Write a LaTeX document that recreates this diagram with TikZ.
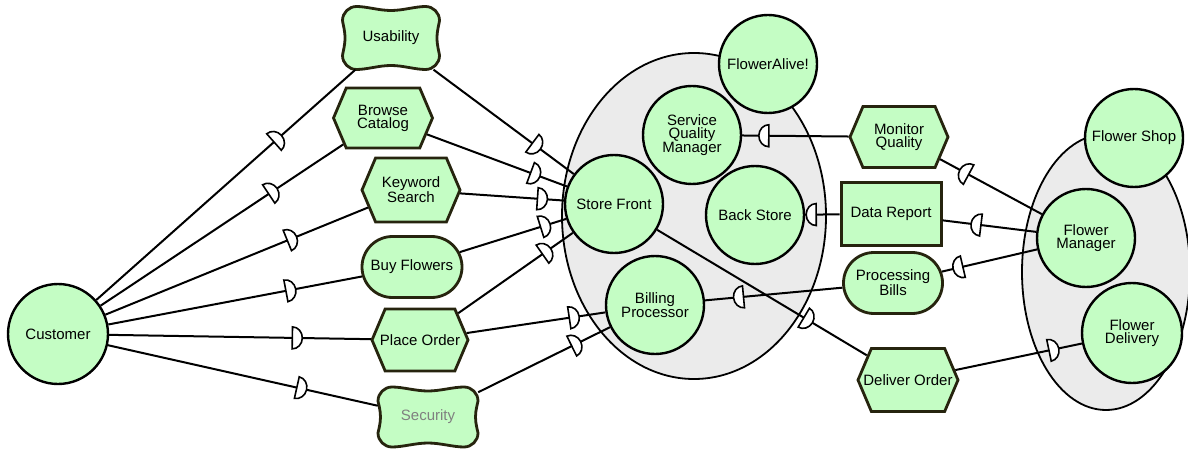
\documentclass[tikz,border=0pt]{standalone}
\usepackage{fontspec}
\setmainfont{Liberation Sans}
\usetikzlibrary{shapes.misc,shapes.symbols,shapes.geometric,decorations.markings}

\definecolor{actorfill}{RGB}{196,253,196}
\definecolor{bndfill}{RGB}{235,235,235}
\definecolor{dumline}{RGB}{38,36,14}

\tikzset{
  lbl/.style={font=\fontsize{15}{13}\selectfont, align=center, text=black, inner sep=0pt},
  actor/.style={lbl, circle, draw=black, line width=2.4pt, fill=actorfill, minimum size=98pt},
  boundary/.style={ellipse, draw=black, line width=1.8pt, fill=bndfill, inner sep=0pt},
  goalnode/.style={lbl, rounded rectangle, draw=dumline, line width=2.8pt, fill=actorfill},
  tasknode/.style={signal, signal to=west and east, signal pointer angle=134,
    draw=dumline, line width=2.8pt, fill=actorfill, inner sep=0pt},
  resnode/.style={lbl, rectangle, draw=dumline, line width=3pt, fill=actorfill},
  softnode/.style={lbl, rectangle},
  softshape/.style={draw=dumline, line width=2.8pt, fill=actorfill},
  link/.style={draw=black, line width=2pt},
  dmark/.style={draw=black, line width=1.6pt, fill=white},
  dep/.style={postaction={decorate, decoration={markings,
    mark=at position #1 with {\draw[dmark] (0,-11pt) -- (0,11pt)
      arc[start angle=90, end angle=-90, x radius=10pt, y radius=11pt] -- cycle;}}}},
}

% softgoal: pillow-shaped outline (round corners, gently hollow sides)
% with a named text node on top
\newcommand\softgoal[6]{%
  \draw[softshape, shift={(#2,#3)}]
    (-#4+14,-#5) .. controls (-#4/2,-#5) and (-#4/4,-#5+4) .. (0,-#5+4)
    .. controls (#4/4,-#5+4) and (#4/2,-#5) .. (#4-14,-#5)
    .. controls (#4-6.3,-#5) and (#4,-#5+6.3) .. (#4,-#5+14)
    .. controls (#4,-#5/2) and (#4-2.5,-#5/4) .. (#4-2.5,0)
    .. controls (#4-2.5,#5/4) and (#4,#5/2) .. (#4,#5-14)
    .. controls (#4,#5-6.3) and (#4-6.3,#5) .. (#4-14,#5)
    .. controls (#4/2,#5) and (#4/4,#5-4) .. (0,#5-4)
    .. controls (-#4/4,#5-4) and (-#4/2,#5) .. (-#4+14,#5)
    .. controls (-#4+6.3,#5) and (-#4,#5-6.3) .. (-#4,#5-14)
    .. controls (-#4,#5/2) and (-#4+2.5,#5/4) .. (-#4+2.5,0)
    .. controls (-#4+2.5,-#5/4) and (-#4,-#5/2) .. (-#4,-#5+14)
    .. controls (-#4,-#5+6.3) and (-#4+6.3,-#5) .. (-#4+14,-#5) -- cycle;
  \node[softnode, minimum width=2*#4, minimum height=2*#5] (#1) at (#2,#3) {#6};}

% task: hexagon with its label set over it
\newcommand\taskat[6]{%
  \node[tasknode, minimum width=#4, minimum height=#5] (#1) at (#2,#3) {};
  \node[lbl] (#1-text) at (#1) {#6};}

\begin{document}
\begin{tikzpicture}[x=1pt,y=-1pt]
\useasboundingbox (0,0) rectangle (1188,449);
\fill[white] (0,0) rectangle (1188,449);
\clip (0,0) rectangle (1188,449);

% actor boundaries
\node[boundary, minimum width=264, minimum height=326] (alivebnd) at (694,216) {};
\node[boundary, minimum width=168, minimum height=276] (shopbnd) at (1106,272) {};

% actors and agents
\node[actor, minimum size=100pt] (customer) at (58,334) {Customer};
\node[actor] (flweralive) at (768,64) {FlowerAlive!};
\node[actor] (sqm) at (692,135) {Service\\Quality\\Manager};
\node[actor] (storefront) at (614,204) {Store Front};
\node[actor] (backstore) at (755,215) {Back Store};
\node[actor] (billing) at (655,305) {Billing\\Processor};
\node[actor] (flowershop) at (1134,138) {Flower Shop};
\node[actor] (fmanager) at (1086,238) {Flower\\Manager};
\node[actor, minimum size=100pt] (fdelivery) at (1132,333) {Flower\\Delivery};

% dependums
\softgoal{usability}{391}{38}{48.5}{31.5}{Usability}
\taskat{browse}{383}{118}{99}{60}{Browse\\Catalog}
\taskat{keyword}{411}{190}{98}{64}{Keyword\\Search}
\node[goalnode, minimum width=100, minimum height=61] (buy) at (412,267) {Buy Flowers};
\taskat{placeorder}{420}{340}{96}{62}{Place Order}
\softgoal{security}{428}{417}{50}{30}{\textcolor{black!50}{Security}}
\taskat{monitor}{899}{137}{98}{61}{Monitor\\Quality}
\node[resnode, minimum width=100, minimum height=62] (datareport) at (891,214) {Data Report};
\node[goalnode, minimum width=99, minimum height=61] (procbills) at (893,283) {Processing\\Bills};
\taskat{deliver}{908}{380}{100}{63}{Deliver Order}

% dependency links (depender -> dependum -> dependee)
\draw[link, dep=0.686] (customer) -- (usability);
\draw[link, dep=0.693] (customer) -- (browse);
\draw[link, dep=0.693] (customer) -- (keyword);
\draw[link, dep=0.70] (customer) -- (buy);
\draw[link, dep=0.70] (customer) -- (placeorder);
\draw[link, dep=0.70] (customer) -- (security);

\draw[link, dep=0.705] (usability) -- (storefront);
\draw[link, dep=0.74] (browse) -- (storefront);
\draw[link, dep=0.745] (keyword) -- (storefront);
\draw[link, dep=0.76] (buy) -- (storefront);
\draw[link, dep=0.735] (placeorder) -- (storefront);
\draw[link, dep=0.74] (placeorder) -- (billing);
\draw[link, dep=0.71] (security) -- (billing);

\draw[link, dep=0.72] (fmanager) -- (monitor);
\draw[link, dep=0.75] (monitor) -- (sqm);
\draw[link, dep=0.59] (fmanager) -- (datareport);
\draw[link, dep=0.68] (datareport) -- (backstore);
\draw[link, dep=0.78] (fmanager) -- (procbills);
\draw[link, dep=0.72] (procbills) -- (billing);
\draw[link, dep=0.70] (storefront) -- (deliver);
\draw[link, dep=0.74] (deliver) -- (fdelivery);
\end{tikzpicture}
\end{document}
